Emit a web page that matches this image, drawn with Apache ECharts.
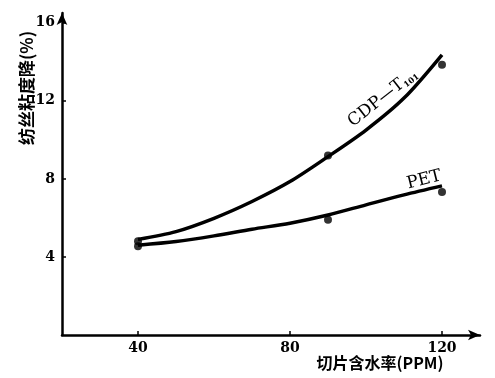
<!DOCTYPE html>
<html><head><meta charset="utf-8">
<script src="https://cdn.jsdelivr.net/npm/echarts@6/dist/echarts.min.js"></script>
<style>html,body{margin:0;padding:0;background:#fff}#c{width:495px;height:378px}</style>
</head><body><div id="c"></div>
<script>
// Fitted curves
var curveX = [40, 50, 60, 70, 80, 90, 100, 110, 120];
var cdpCurveY = [4.9, 5.3, 5.98, 6.84, 7.86, 9.14, 10.5, 12.14, 14.36];
var petCurveY = [4.6, 4.79, 5.08, 5.42, 5.73, 6.15, 6.67, 7.18, 7.64];
// Measured points
var cdpPtX = [40, 90, 120];
var cdpPtY = [4.8, 9.2, 13.85];
var petPtX = [40, 90, 120];
var petPtY = [4.55, 5.9, 7.33];
var xTicks = [40, 80, 120];
var yTicks = [4, 8, 12, 16];
var xName = '切片含水率(PPM)';
var yName = '纺丝粘度降(%)';
var cdpName = 'CDP—T';
var cdpSub = '101';
var petName = 'PET';

function pairs(xs, ys){ return xs.map(function(x,i){return [x, ys[i]];}); }
var serif = '"DejaVu Serif","Liberation Serif",serif';
var cjk = '"Noto Sans CJK SC","Liberation Serif",serif';

var chart = echarts.init(document.getElementById('c'));
var axisCommon = {
  axisLine: {show: true, lineStyle: {color: '#000', width: 2.5}, symbol: ['none', 'arrow'], symbolSize: [8, 12]},
  axisTick: {show: true, inside: true, length: 4, lineStyle: {color: '#000', width: 1.5}},
  splitLine: {show: false},
  axisLabel: {color: '#000', fontFamily: serif, fontWeight: 'bold', fontSize: 14}
};
chart.setOption({
  animation: false,
  backgroundColor: '#fff',
  grid: {left: 62, right: 15, top: 13, bottom: 43, containLabel: false},
  xAxis: Object.assign({}, axisCommon, {
    type: 'value', min: 20, max: 130,
    axisTick: Object.assign({}, axisCommon.axisTick, {customValues: xTicks}),
    axisLabel: Object.assign({}, axisCommon.axisLabel, {customValues: xTicks, margin: 6})
  }),
  yAxis: Object.assign({}, axisCommon, {
    type: 'value', min: 0, max: 16.5,
    axisTick: Object.assign({}, axisCommon.axisTick, {customValues: yTicks}),
    axisLabel: Object.assign({}, axisCommon.axisLabel, {customValues: yTicks, margin: 7})
  }),
  series: [
    {type: 'line', data: pairs(curveX, cdpCurveY), smooth: 0.3, showSymbol: false,
     lineStyle: {color: '#000', width: 3.5}},
    {type: 'line', data: pairs(curveX, petCurveY), smooth: 0.3, showSymbol: false,
     lineStyle: {color: '#000', width: 3.5}},
    {type: 'scatter', data: pairs(cdpPtX, cdpPtY), symbolSize: 8, itemStyle: {color: '#000'}},
    {type: 'scatter', data: pairs(petPtX, petPtY), symbolSize: 8, itemStyle: {color: '#000'}}
  ]
});
var pc = chart.convertToPixel({gridIndex: 0}, [104.4, 12.15]);
var pp = chart.convertToPixel({gridIndex: 0}, [115.3, 7.95]);
chart.setOption({
  graphic: [
    {type: 'text', x: 27, y: 88, rotation: Math.PI / 2,
     style: {text: yName, font: 'bold 17px ' + cjk, fill: '#000', align: 'center', verticalAlign: 'middle'}},
    {type: 'text', x: 380, y: 363,
     style: {text: xName, font: 'bold 16px ' + cjk, fill: '#000', align: 'center', verticalAlign: 'middle'}},
    {type: 'text', x: pc[0], y: pc[1], rotation: 38 * Math.PI / 180,
     style: {rich: {m: {font: '17px ' + serif, fill: '#000'}, s: {font: 'bold 8px ' + serif, fill: '#000', verticalAlign: 'bottom', padding: [8,0,0,0]}},
             text: '{m|' + cdpName + '}{s|' + cdpSub + '}', align: 'center', verticalAlign: 'middle'}},
    {type: 'text', x: pp[0], y: pp[1], rotation: 14 * Math.PI / 180,
     style: {text: petName, font: '17px ' + serif, fill: '#000', align: 'center', verticalAlign: 'middle'}}
  ]
});
</script></body></html>
